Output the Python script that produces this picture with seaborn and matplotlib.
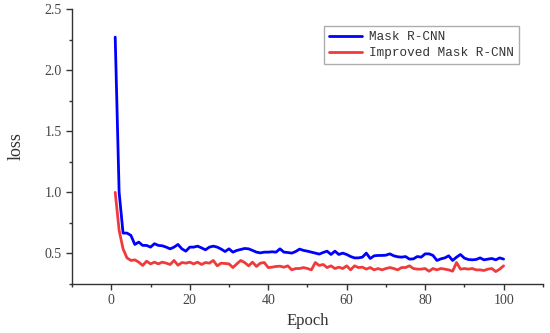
import numpy as np
import pandas as pd
import matplotlib
matplotlib.use("Agg")
import matplotlib.pyplot as plt
import seaborn as sns
from matplotlib.ticker import MultipleLocator

epochs = list(range(1, 101))

mask_rcnn = [
    2.27, 1.00, 0.667, 0.667, 0.648, 0.574, 0.593, 0.566, 0.566, 0.552,
    0.580, 0.566, 0.563, 0.552, 0.538, 0.552, 0.574, 0.538, 0.519, 0.552,
    0.552, 0.560, 0.546, 0.530, 0.552, 0.560, 0.552, 0.536, 0.516, 0.538,
    0.511, 0.525, 0.533, 0.541, 0.538, 0.525, 0.511, 0.505, 0.511, 0.511,
    0.514, 0.511, 0.538, 0.511, 0.508, 0.503, 0.516, 0.536, 0.525, 0.519,
    0.511, 0.503, 0.495, 0.508, 0.519, 0.492, 0.519, 0.492, 0.503, 0.492,
    0.475, 0.464, 0.464, 0.470, 0.503, 0.459, 0.481, 0.484, 0.484, 0.486,
    0.497, 0.481, 0.473, 0.470, 0.475, 0.454, 0.456, 0.475, 0.470, 0.497,
    0.497, 0.484, 0.443, 0.456, 0.464, 0.481, 0.443, 0.470, 0.492, 0.462,
    0.451, 0.448, 0.451, 0.464, 0.448, 0.454, 0.459, 0.448, 0.464, 0.454,
]

improved = [
    1.00, 0.689, 0.538, 0.464, 0.443, 0.448, 0.429, 0.402, 0.437, 0.415,
    0.429, 0.415, 0.429, 0.421, 0.410, 0.443, 0.404, 0.426, 0.421, 0.429,
    0.415, 0.429, 0.410, 0.426, 0.421, 0.443, 0.399, 0.421, 0.418, 0.415,
    0.385, 0.415, 0.443, 0.426, 0.399, 0.429, 0.394, 0.421, 0.426, 0.385,
    0.388, 0.394, 0.396, 0.388, 0.399, 0.366, 0.377, 0.377, 0.385, 0.377,
    0.366, 0.426, 0.402, 0.410, 0.385, 0.399, 0.377, 0.388, 0.377, 0.399,
    0.366, 0.399, 0.385, 0.388, 0.372, 0.385, 0.366, 0.377, 0.366, 0.377,
    0.385, 0.377, 0.366, 0.385, 0.385, 0.399, 0.377, 0.372, 0.372, 0.377,
    0.355, 0.377, 0.366, 0.377, 0.372, 0.366, 0.355, 0.426, 0.372, 0.377,
    0.372, 0.377, 0.366, 0.366, 0.361, 0.372, 0.377, 0.352, 0.372, 0.399,
]

series_names = ["Mask R-CNN", "Improved Mask R-CNN"]

df = pd.DataFrame({
    "Epoch": epochs * 2,
    "loss": mask_rcnn + improved,
    "model": [series_names[0]] * 100 + [series_names[1]] * 100,
})

sns.set_style("ticks")
plt.rcParams["font.family"] = ["Liberation Serif", "DejaVu Serif"]

fig = plt.figure(figsize=(5.5, 3.33), dpi=100)
ax = fig.add_axes([0.131, 0.147, 0.856, 0.826])

sns.lineplot(data=df, x="Epoch", y="loss", hue="model",
             palette=["#0000ff", "#ef3b3b"], linewidth=2, ax=ax)

ax.set_xlim(-10, 110)
ax.set_ylim(0.25, 2.5)
ax.xaxis.set_major_locator(MultipleLocator(20))
ax.xaxis.set_minor_locator(MultipleLocator(10))
ax.yaxis.set_minor_locator(MultipleLocator(0.25))
ax.set_yticks([0.5, 1.0, 1.5, 2.0, 2.5])
ax.set_yticklabels(["0.5", "1.0", "1.5", "2.0", "2.5"])

for s in ["top", "right"]:
    ax.spines[s].set_visible(False)
for s in ["left", "bottom"]:
    ax.spines[s].set_color("#333333")
    ax.spines[s].set_linewidth(1)

ax.tick_params(which="major", length=4, width=1, color="#333333",
               labelsize=10, labelcolor="#444444", direction="out")
ax.tick_params(which="minor", length=2.5, width=1, color="#333333", direction="out")

ax.set_xlabel("Epoch", fontsize=12, color="#333333")
ax.set_ylabel("loss", fontsize=13, color="#333333", labelpad=14)

leg = ax.legend(loc="upper right", bbox_to_anchor=(0.949, 0.938),
                prop={"family": "Liberation Mono", "size": 9.2},
                frameon=True, fancybox=False, handlelength=2.6,
                borderpad=0.4, labelspacing=0.3, handletextpad=0.5,
                borderaxespad=0)
leg.get_frame().set_edgecolor("#999999")
leg.get_frame().set_linewidth(1)
for t in leg.get_texts():
    t.set_color("#333333")

fig.savefig("out.png", dpi=100)
